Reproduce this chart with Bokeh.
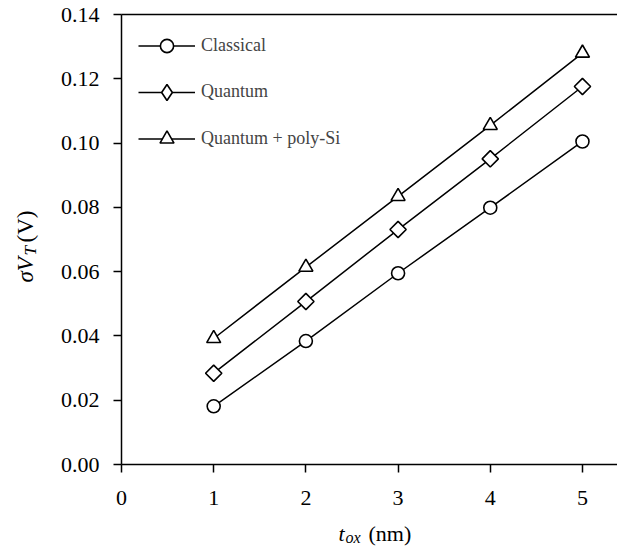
import math
from bokeh.plotting import figure
from bokeh.models import (Range1d, FixedTicker, NumeralTickFormatter, Legend, LegendItem,
                          Label, LinearAxis)
from bokeh.embed import file_html
from bokeh.resources import INLINE

# ---- data ----
t_ox = [1, 2, 3, 4, 5]
classical = [0.0181, 0.0384, 0.0595, 0.0799, 0.1005]
quantum = [0.0284, 0.0507, 0.0731, 0.0951, 0.1176]
quantum_poly = [0.0392, 0.0614, 0.0834, 0.1055, 0.1280]
series_names = ["Classical", "Quantum", "Quantum + poly-Si"]
x_ticks = [0, 1, 2, 3, 4, 5]
y_ticks = [0.00, 0.02, 0.04, 0.06, 0.08, 0.10, 0.12, 0.14]
X_MAX = 5.38
Y_MAX = 0.14

# ---- layout geometry (pixels) ----
W, H = 617, 549
L, T, B = 121, 14, 464          # pixel of x=0, y=Y_MAX, y=0
PX_X = (W - L) / X_MAX
PX_Y = (B - T) / Y_MAX
FONT = "Liberation Serif"

p = figure(width=W, height=H, output_backend="svg", toolbar_location=None,
           x_range=Range1d(-L / PX_X, X_MAX),
           y_range=Range1d(-(H - B) / PX_Y, B / PX_Y),
           x_axis_location=None, y_axis_location=None,
           min_border=0)
p.frame_width = W
p.frame_height = H
p.xgrid.visible = False
p.ygrid.visible = False
p.outline_line_color = None
p.background_fill_color = "white"
p.border_fill_color = "white"


def style_axis(ax):
    ax.axis_line_width = 1.5
    ax.axis_line_color = "black"
    ax.major_tick_line_width = 1.5
    ax.major_tick_line_color = "black"
    ax.major_tick_out = 8
    ax.major_tick_in = 0
    ax.minor_tick_line_color = None
    ax.major_label_text_font = FONT
    ax.major_label_text_font_size = "22px"
    ax.major_label_text_color = "black"


xax = LinearAxis(ticker=FixedTicker(ticks=x_ticks), fixed_location=0, bounds=(0, X_MAX))
style_axis(xax)
xax.major_label_standoff = 18
p.add_layout(xax, "below")

yax = LinearAxis(ticker=FixedTicker(ticks=y_ticks), fixed_location=0, bounds=(0, Y_MAX),
                 formatter=NumeralTickFormatter(format="0.00"))
style_axis(yax)
yax.major_label_standoff = 14
p.add_layout(yax, "left")

top = LinearAxis(ticker=FixedTicker(ticks=[]), fixed_location=Y_MAX, bounds=(0, X_MAX))
style_axis(top)
top.major_tick_line_color = None
p.add_layout(top, "above")

markers = [("circle", 13, 0.0), ("square", 11.5, math.pi / 4), ("triangle", 14, 0.0)]
legend_rows = [(45, 33), (91.5, 40), (138, 35)]   # row centre y, glyph height
for name, ys, (mk, sz, ang), (cy, gh) in zip(series_names, [classical, quantum, quantum_poly],
                                            markers, legend_rows):
    ln = p.line(t_ox, ys, line_color="black", line_width=1.5)
    rends = [ln]
    if mk == "square":
        # legend shows a diamond; drawn hidden beneath the rotated squares
        dm = p.scatter(t_ox, ys, marker="diamond", size=9, fill_color="white",
                       line_color="black", line_width=1.6)
        rends.append(dm)
    sc = p.scatter(t_ox, ys, marker=mk, size=sz, angle=ang, fill_color="white",
                   line_color="black", line_width=1.6)
    if mk != "square":
        rends.append(sc)
    lg = Legend(items=[LegendItem(label=name, renderers=rends)],
                location=(138, H - (cy + gh / 2)), padding=0, margin=0, spacing=0,
                glyph_width=57, glyph_height=gh, label_standoff=6,
                label_text_font=FONT, label_text_font_size="18px",
                border_line_color=None, background_fill_alpha=0)
    p.add_layout(lg)


def dx(px):
    return (px - L) / PX_X


def dy(py):
    return (B - py) / PX_Y


def lab(text, sx, sy, size, style="normal", angle=0.0):
    p.add_layout(Label(x=dx(sx), y=dy(sy), text=text, angle=angle,
                       text_font=FONT, text_font_size=size, text_font_style=style,
                       text_align="left", text_baseline="alphabetic", text_color="black"))


# x axis title: t_ox (nm)
lab("t", 338, 533, "22px", "italic")
lab("ox", 345, 537, "16px", "italic")
lab("(nm)", 368, 533, "22px")

# y axis title: sigma V_T (V), rotated
rot = math.pi / 2
lab("σV", 25, 282, "23px", "italic", rot)
lab("T", 30, 255, "17px", "italic", rot)
lab("(V)", 25, 242, "23px", "normal", rot)

open("out.html", "w").write(file_html(p, INLINE))
